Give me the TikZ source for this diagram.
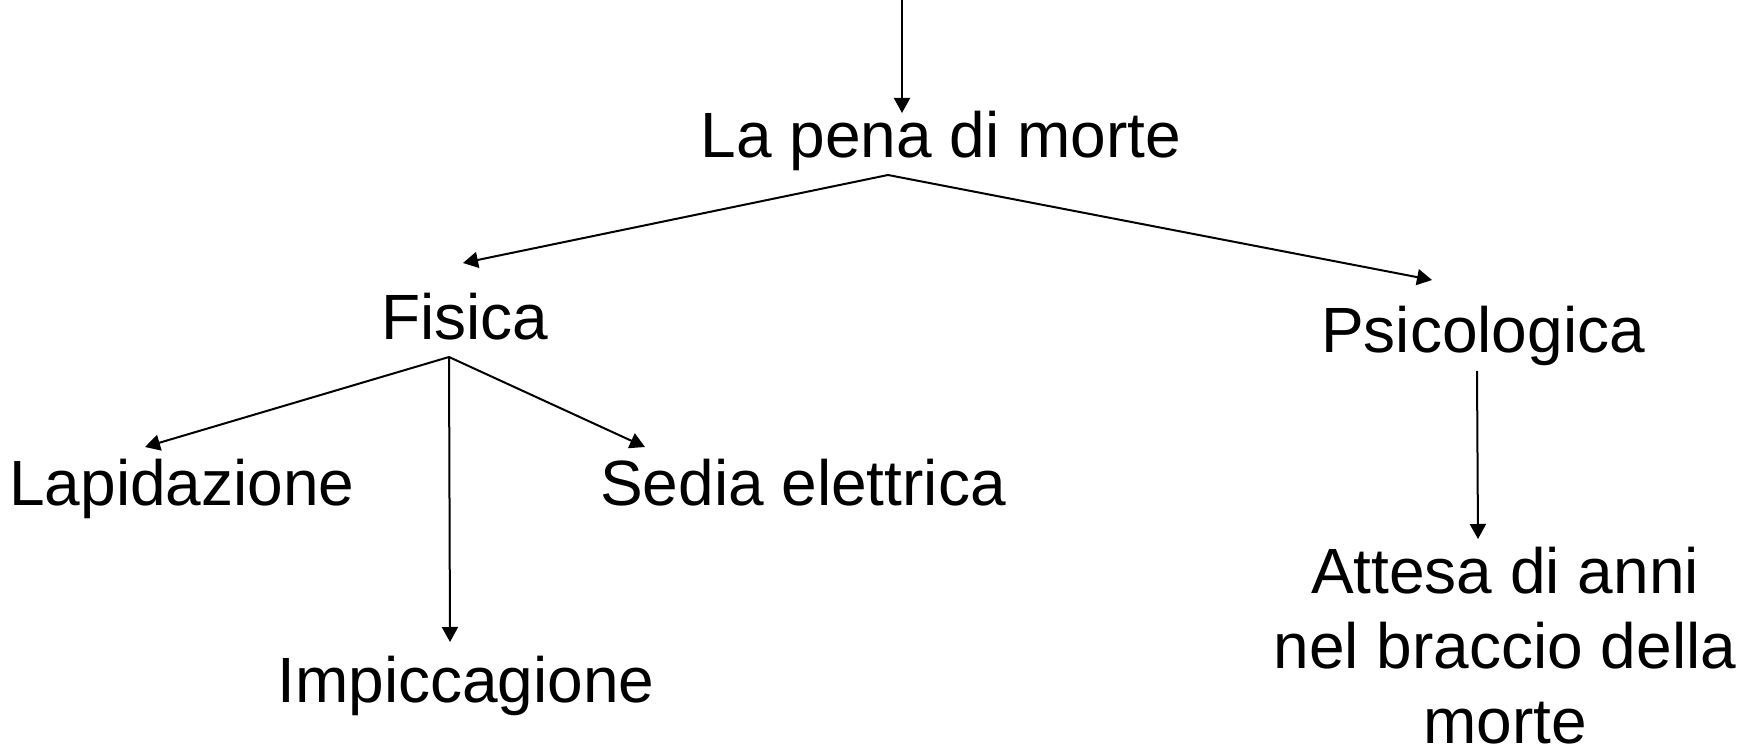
\documentclass[tikz,border=0pt]{standalone}
\usepackage{fontspec}
\setmainfont{Liberation Sans}
\usetikzlibrary{arrows.meta}
\begin{document}
\begin{tikzpicture}[x=0.5pt,y=-0.5pt,
  lbl/.style={anchor=base,inner sep=0pt,outer sep=0pt,font=\fontsize{32}{37.3}\selectfont,align=center},
  arr/.style={line width=1pt,-{Triangle[length=7.5pt,width=8pt]}}]
\useasboundingbox (0,0) rectangle (1752,754);
\node[lbl] (pena) at (941,158) {La pena di morte};
\node[lbl] (fisica) at (465,340) {Fisica};
\node[lbl] (psico) at (1483,353) {Psicologica};
\node[lbl] (lapi) at (182,505) {Lapidazione};
\node[lbl] (sedia) at (803,505) {Sedia elettrica};
\node[lbl] (impi) at (466,702) {Impiccagione};
\node[lbl] (attesa) at (1505,743) {Attesa di anni\\nel braccio della\\morte};
\coordinate (top) at (902,0);
\coordinate (penain) at (902,113);
\coordinate (penaout) at (888,175);
\coordinate (fisicain) at (463,263);
\coordinate (psicoin) at (1432,280);
\coordinate (fisicaout) at (449,357);
\coordinate (lapiin) at (145,447);
\coordinate (sediain) at (645,447);
\coordinate (impiin) at (450,642);
\coordinate (psicoout) at (1477,371);
\coordinate (attesain) at (1478,539);
\draw[arr] (top) -- (penain);
\draw[arr] (penaout) -- (fisicain);
\draw[arr] (penaout) -- (psicoin);
\draw[arr] (fisicaout) -- (lapiin);
\draw[arr] (fisicaout) -- (sediain);
\draw[arr] (fisicaout) -- (impiin);
\draw[arr] (psicoout) -- (attesain);
\end{tikzpicture}
\end{document}
